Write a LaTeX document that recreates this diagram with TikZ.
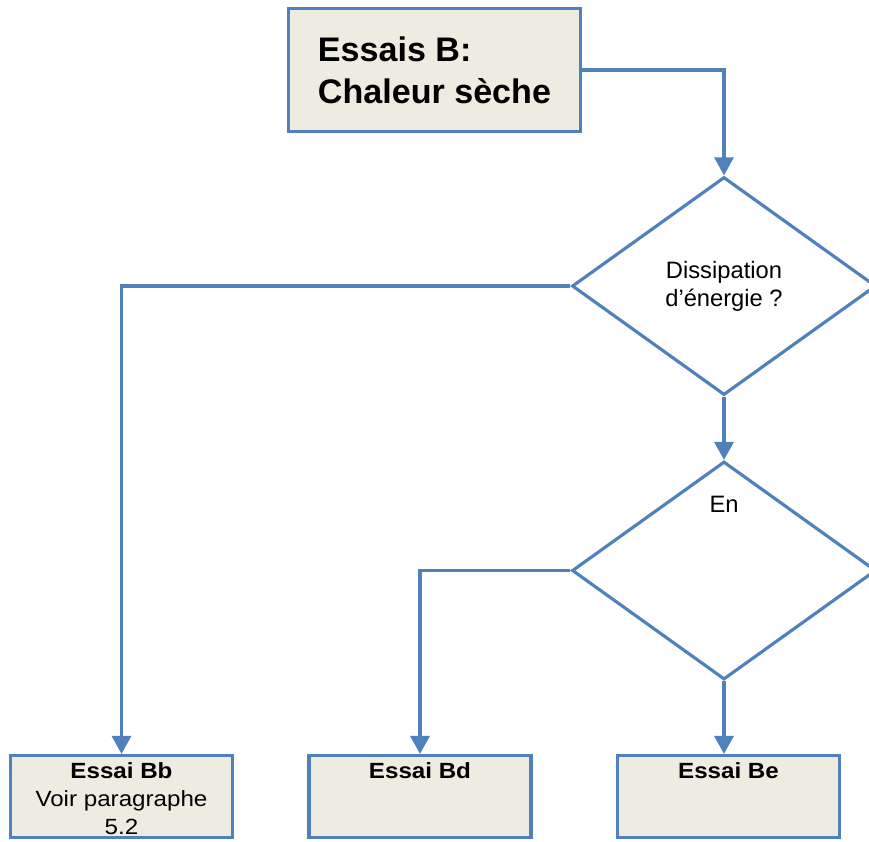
\documentclass[tikz,border=0pt]{standalone}
\usepackage{fontspec}
\setmainfont{Liberation Sans}
\newfontfamily\etire[FakeStretch=1.1]{Liberation Sans}
\usepackage{tikz}
\usetikzlibrary{arrows.meta,positioning}
\usetikzlibrary{shapes,calc}
\definecolor{bleu}{RGB}{79,129,189}
\definecolor{beige}{RGB}{238,236,225}
\tikzstyle{lien}=[draw=bleu, line width=1.8pt, -{Triangle[length=0.36cm,width=0.38cm]}]

\begin{document}
\begin{tikzpicture}[boite/.style={rectangle,draw=bleu,fill=beige,line width=1.8pt,minimum width=4.44cm,minimum height=1.64cm},
          question/.style={diamond,draw=bleu,line width=1.8pt,minimum width=6.08cm,minimum height=4.36cm,inner sep=0pt,align=center},
          texte/.style={inner sep=0pt,align=center,font=\etire\fontsize{12.5}{16}\selectfont}]
        \clip (0,0) rectangle (17.38,-16.82);
        \node [boite,minimum width=5.84cm,minimum height=2.46cm,align=left,
               font=\fontsize{19.4}{24}\selectfont\bfseries] (essais) at (8.69,-1.40) {Essais B:\\Chaleur sèche};
        \node [question,font=\fontsize{13.5}{16}\selectfont] (dissip) at (14.48,-5.72) {Dissipation\\d’énergie ?};
        \node [question] (enq) at (14.48,-11.41) {};
        \node [inner sep=0pt,font=\fontsize{13.5}{16}\selectfont,below=0.72cm of enq.north] (entxt) {En};
        % essais en bas
        \node [boite] (bb) at (2.43,-15.93) {};
        \node [boite] (bd) at (8.40,-15.93) {};
        \node [boite] (be) at (14.57,-15.93) {};
        \node [texte,below=0.17cm of bb.north] (bbtxt) {\textbf{Essai Bb}\\Voir paragraphe\\5.2};
        \node [texte,below=0.17cm of bd.north] (bdtxt) {\textbf{Essai Bd}};
        \node [texte,below=0.17cm of be.north] (betxt) {\textbf{Essai Be}};
        \draw [lien] (essais.east) -| (dissip.north);
        \draw [lien] (dissip.south) -- (enq.north);
        \draw [lien] (dissip.west) -| (bb.north);
        \draw [lien] (enq.west) -| (bd.north);
        \draw [lien] (enq.south) -- (enq.south |- be.north);
      \end{tikzpicture}
\end{document}
